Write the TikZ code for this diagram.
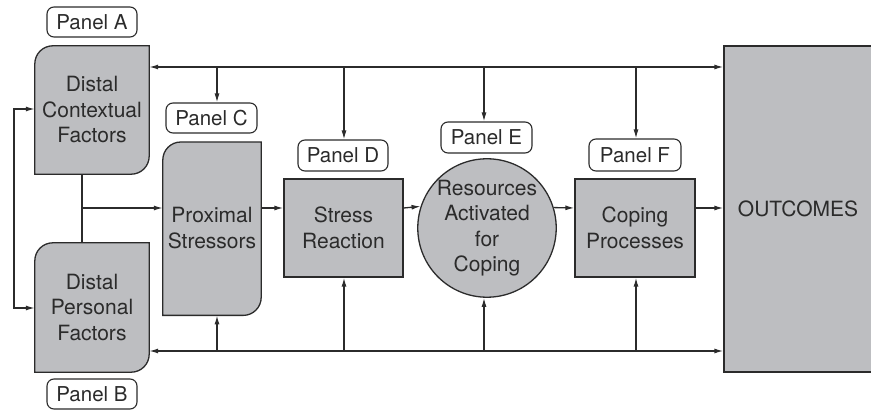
\documentclass[tikz,border=0pt]{standalone}
\usepackage{fontspec}
\setmainfont{TeX Gyre Heros}
\usetikzlibrary{arrows.meta,backgrounds}
\definecolor{boxgray}{HTML}{BDBEC1}
\definecolor{ink}{HTML}{2B2B2B}
\tikzset{
  x=1pt,y=1pt,
  txt/.style={align=center,font=\fontsize{21}{25.5}\selectfont,text=ink,inner sep=0pt},
  panel/.style={txt,font=\fontsize{20.5}{25}\selectfont,draw=ink,line width=1.1pt,rounded corners=7pt,fill=white},
  graybox/.style={txt,draw=ink,line width=1.3pt,fill=boxgray},
  shapeline/.style={draw=ink,line width=1.3pt,fill=boxgray},
  conn/.style={draw=ink,line width=1.3pt},
  arr/.style={conn,-{Latex[length=9pt,width=5pt]}},
  darr/.style={conn,{Latex[length=9pt,width=5pt]}-{Latex[length=9pt,width=5pt]}},
}
\newcommand{\cutbox}[2]{%
  \draw[shapeline] (#1.south west) -- ([yshift=-#2]#1.north west)
    arc[start angle=180,end angle=90,radius=#2] -- (#1.north east)
    -- ([yshift=#2]#1.south east)
    arc[start angle=0,end angle=-90,radius=#2] -- cycle;}
\begin{document}
\begin{tikzpicture}
\useasboundingbox (0,0) rectangle (871,410);
% panels
\node[panel,minimum width=90,minimum height=30] (pA) at (92,388) {Panel A};
\node[panel,minimum width=90,minimum height=30] (pB) at (92,16) {Panel B};
\node[panel,minimum width=91,minimum height=30] (pC) at (211.5,292) {Panel C};
\node[panel,minimum width=90,minimum height=31] (pD) at (343,254.5) {Panel D};
\node[panel,minimum width=91,minimum height=31] (pE) at (486.5,272.5) {Panel E};
\node[panel,minimum width=92,minimum height=32] (pF) at (635,255) {Panel F};
% boxes with cut corners
\node[txt,minimum width=114,minimum height=128] (dcf) at (92,300) {Distal\\Contextual\\Factors};
\node[txt,minimum width=114,minimum height=129] (dpf) at (92,102.5) {Distal\\Personal\\Factors};
\node[txt,minimum width=98,minimum height=173,anchor=north] (prox) at (212,268) {};
\node[txt] (proxt) at (212,182) {Proximal\\Stressors};
\begin{scope}[on background layer]
  \cutbox{dcf}{18pt}
  \cutbox{dpf}{18pt}
  \cutbox{prox}{18pt}
\end{scope}
% plain boxes
\node[graybox,minimum width=119,minimum height=98] (sr) at (343.5,182) {Stress\\Reaction};
\node[graybox,circle,minimum size=134] (res) at (487,182) {Resources\\Activated\\for\\Coping};
\node[graybox,minimum width=120,minimum height=98] (cp) at (635,182) {Coping\\Processes};
\node[graybox,minimum width=148,minimum height=326] (out) at (798,201) {OUTCOMES};
% top and bottom bus lines
\coordinate (tl) at (149,343);
\coordinate (bl) at (149,59);
\draw[darr] (dcf.east |- tl) -- (out.west |- tl);
\draw[darr] (dpf.east |- bl) -- (out.west |- bl);
\coordinate (t1) at (217,343);
\coordinate (t2) at (344,343);
\coordinate (t3) at (484,343);
\coordinate (t4) at (636,343);
\coordinate (b1) at (217,59);
\coordinate (b2) at (344,59);
\coordinate (b3) at (484,59);
\coordinate (b4) at (636,59);
\draw[arr] (t1) -- (t1 |- pC.north);
\draw[arr] (t2) -- (t2 |- pD.north);
\draw[arr] (t3) -- (t3 |- pE.north);
\draw[arr] (t4) -- (t4 |- pF.north);
\draw[arr] (b1) -- (b1 |- prox.south);
\draw[arr] (b2) -- (b2 |- sr.south);
\draw[arr] (b3) -- (res.south -| b3);
\draw[arr] (b4) -- (b4 |- cp.south);
% left feedback
\coordinate (fl1) at (14,301);
\coordinate (fl2) at (14,102);
\draw[darr] (dcf.west |- fl1) -- (fl1) -- (fl2) -- (dpf.west |- fl2);
% distal junction
\coordinate (j) at (82,202);
\draw[conn] (dcf.south -| j) -- (dpf.north -| j);
\draw[arr] (j) -- (prox.west |- j);
% main chain
\coordinate (m) at (0,202);
\draw[arr] (prox.east |- m) -- (sr.west |- m);
\draw[arr] (sr.east |- m) -- (res.162.6);
\draw[arr] (res.17.4) -- (cp.west |- m);
\draw[arr] (cp.east |- m) -- (out.west |- m);
\end{tikzpicture}
\end{document}
